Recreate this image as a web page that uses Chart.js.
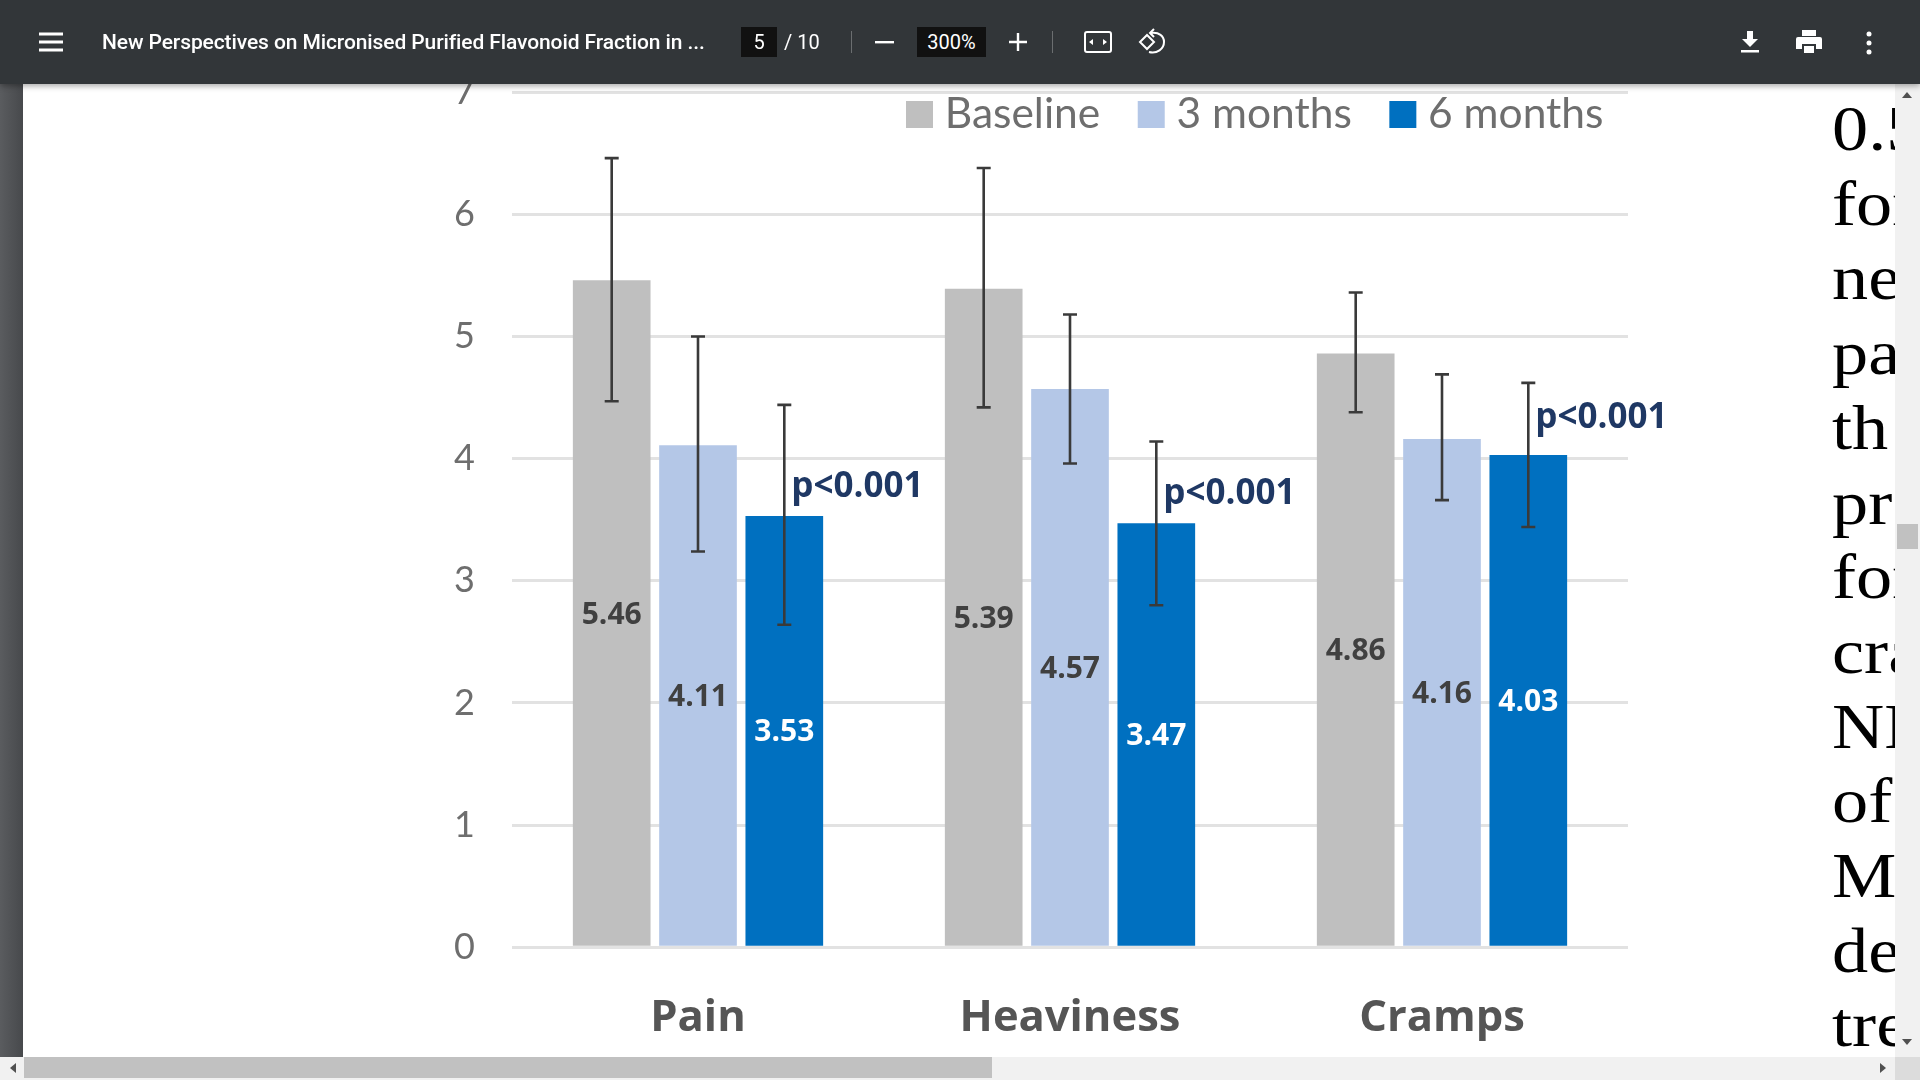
<!DOCTYPE html>
<html><head><meta charset="utf-8">
<script src="https://cdn.jsdelivr.net/npm/chart.js@4"></script>
<style>
html,body{margin:0;padding:0;width:1920px;height:1080px;overflow:hidden;background:#fff}
#chartWrap{position:absolute;left:0;top:-10px;width:1920px;height:1090px;filter:blur(.5px)}
#c{display:block}
.bar{position:absolute;left:0;top:0;width:1920px;height:84px;background:#323639;box-shadow:0 2px 6px rgba(0,0,0,.35);z-index:5;color:#fff;font-family:Roboto,sans-serif}
.bar>*{position:absolute}
.title{left:102px;top:29px;font-size:21px;font-weight:500;line-height:26px;white-space:nowrap;letter-spacing:-.1px}
.box{background:#111;top:27px;height:30px;text-align:center;line-height:30px;font-size:20px}
.sep{width:1px;background:#6b6e70;top:31px;height:22px}
.strip{position:absolute;left:0;top:84px;width:23px;height:973px;background:linear-gradient(90deg,#5a5c5f,#47494c);z-index:2}
.vtrack{position:absolute;left:1895px;top:84px;width:25px;height:973px;background:#f1f1f1;z-index:3}
.vthumb{position:absolute;left:1897px;top:524px;width:21px;height:25px;background:#c1c1c1;z-index:4}
.htrack{position:absolute;left:0;top:1057px;width:1920px;height:23px;background:#f1f1f1;z-index:3}
.hthumb{position:absolute;left:24px;top:1057px;width:968px;height:21px;background:#c1c1c1;z-index:4}
.corner{position:absolute;left:1895px;top:1057px;width:25px;height:23px;background:#dcdcdc;z-index:4}
.arr{position:absolute;z-index:4;width:0;height:0}
#prose{position:absolute;left:1832px;top:0;width:63px;height:1057px;overflow:hidden;font-family:"Liberation Serif",serif;font-size:64px;color:#000;z-index:1}
#prose div{position:absolute;left:0;white-space:nowrap;line-height:74px;transform:scaleX(1.13);transform-origin:0 50%}
</style></head>
<body>
<div id="chartWrap"><canvas id="c" width="1920" height="1090"></canvas></div>
<div id="prose"></div>
<div class="strip"></div>
<div class="vtrack"></div><div class="vthumb"></div>
<div class="htrack"></div><div class="hthumb"></div><div class="corner"></div>
<div class="arr" style="left:1902px;top:92px;border:5px solid transparent;border-top:0;border-bottom:6px solid #505050"></div>
<div class="arr" style="left:1902px;top:1039px;border:5px solid transparent;border-bottom:0;border-top:6px solid #505050"></div>
<div class="arr" style="left:10px;top:1063px;border:5px solid transparent;border-left:0;border-right:6px solid #505050"></div>
<div class="arr" style="left:1880px;top:1063px;border:5px solid transparent;border-right:0;border-left:6px solid #505050"></div>
<div class="bar">
  <svg style="left:39px;top:32px" width="24" height="20"><path d="M0 2h24M0 10h24M0 18h24" stroke="#fff" stroke-width="3"/></svg>
  <div class="title">New Perspectives on Micronised Purified Flavonoid Fraction in ...</div>
  <div class="box" style="left:741px;width:36px">5</div>
  <div style="left:784px;top:29px;line-height:26px;font-size:20px;white-space:nowrap">/&nbsp;10</div>
  <div class="sep" style="left:851px"></div>
  <svg style="left:875px;top:41px" width="19" height="3"><rect width="19" height="2.4" fill="#fff"/></svg>
  <div class="box" style="left:917px;width:69px">300%</div>
  <svg style="left:1009px;top:33px" width="18" height="18"><path d="M9 0v18M0 9h18" stroke="#fff" stroke-width="2.4"/></svg>
  <div class="sep" style="left:1052px"></div>
  <svg style="left:1084px;top:31px" width="28" height="22"><rect x="1" y="1" width="26" height="20" rx="2" fill="none" stroke="#fff" stroke-width="2"/><path d="M9 8l-4 3 4 3zM19 8l4 3-4 3z" fill="#fff"/></svg>
  <svg style="left:1138px;top:28px" width="28" height="28" fill="none" stroke="#fff" stroke-width="2"><path d="M9 7l-7 7 7 7 7-7z"/><path d="M13 5c8-1 13 3 13 9 0 7-7 12-15 10"/><path d="M16 1l-4 4 4 4" /></svg>
  <svg style="left:1741px;top:31px" width="18" height="22"><path d="M6 0h6v8h5L9 16 1 8h5zM0 19h18v2.4H0z" fill="#fff"/></svg>
  <svg style="left:1796px;top:30px" width="26" height="24"><path d="M6 0h14v6H6zM2 7h22a2 2 0 0 1 2 2v10h-6v-5H6v5H0V9a2 2 0 0 1 2-2zM8 16h10v7H8z" fill="#fff"/></svg>
  <svg style="left:1866px;top:31px" width="6" height="24" fill="#fff"><circle cx="3" cy="3" r="2.5"/><circle cx="3" cy="12" r="2.5"/><circle cx="3" cy="21" r="2.5"/></svg>
</div>
<script>
const categories = ["Pain", "Heaviness", "Cramps"];
const seriesNames = ["Baseline", "3 months", "6 months"];
const baseline = [5.46, 5.39, 4.86];
const threeMonths = [4.11, 4.57, 4.16];
const sixMonths = [3.53, 3.47, 4.03];
const baselineHigh = [6.46, 6.38, 5.36];
const baselineLow = [4.47, 4.42, 4.38];
const threeMonthsHigh = [5.00, 5.18, 4.69];
const threeMonthsLow = [3.24, 3.96, 3.66];
const sixMonthsHigh = [4.44, 4.14, 4.62];
const sixMonthsLow = [2.64, 2.80, 3.44];
const pValueText = ["p<0.001", "p<0.001", "p<0.001"];
const pValueAt = [3.77, 3.71, 4.33];
const proseLines = ["0.5", "for", "ne", "pa", "th", "pr", "for", "cra", "NN", "of", "Me", "de", "tre"];

const prose = document.getElementById('prose');
proseLines.forEach((t, i) => {
  const d = document.createElement('div');
  d.textContent = t;
  d.style.top = (92 + i * 74.7) + 'px';
  prose.appendChild(d);
});

const highs = [baselineHigh, threeMonthsHigh, sixMonthsHigh];
const lows = [baselineLow, threeMonthsLow, sixMonthsLow];
const labelColors = ['#404040', '#404040', '#ffffff'];
const FONT = 'Lato, sans-serif';
const BOLD = '"Open Sans", sans-serif';

const moveLegend = {
  id: 'moveLegend',
  afterLayout(chart) {
    const lg = chart.legend;
    const h = lg.height, w = lg.width;
    lg.left = 868.5; lg.right = 868.5 + w;
    lg.top = 56.2; lg.bottom = 56.2 + h;
  }
};
const annotate = {
  id: 'annotate',
  afterDatasetsDraw(chart) {
    const { ctx, scales: { y } } = chart;
    ctx.save();
    chart.data.datasets.forEach((ds, d) => {
      const meta = chart.getDatasetMeta(d);
      meta.data.forEach((bar, i) => {
        ctx.fillStyle = labelColors[d];
        ctx.font = 'bold 30px ' + BOLD;
        ctx.textAlign = 'center';
        ctx.textBaseline = 'middle';
        ctx.fillText(ds.data[i].toFixed(2), bar.x, (bar.y + bar.base) / 2 + 2);
        const hi = y.getPixelForValue(highs[d][i]);
        const lo = y.getPixelForValue(lows[d][i]);
        ctx.strokeStyle = '#3a3a3a';
        ctx.lineWidth = 2.6;
        ctx.beginPath();
        ctx.moveTo(bar.x, hi); ctx.lineTo(bar.x, lo);
        ctx.moveTo(bar.x - 7, hi); ctx.lineTo(bar.x + 7, hi);
        ctx.moveTo(bar.x - 7, lo); ctx.lineTo(bar.x + 7, lo);
        ctx.stroke();
      });
    });
    const m = chart.getDatasetMeta(2);
    ctx.fillStyle = '#1f3864';
    ctx.font = 'bold 35px ' + BOLD;
    ctx.textAlign = 'left';
    ctx.textBaseline = 'middle';
    m.data.forEach((bar, i) => {
      ctx.fillText(pValueText[i], bar.x + 7, y.getPixelForValue(pValueAt[i]));
    });
    ctx.restore();
  }
};

new Chart(document.getElementById('c'), {
  type: 'bar',
  data: {
    labels: categories,
    datasets: [
      { label: seriesNames[0], data: baseline, backgroundColor: '#bfbfbf', borderWidth: 0 },
      { label: seriesNames[1], data: threeMonths, backgroundColor: '#b4c7e7', borderWidth: 0 },
      { label: seriesNames[2], data: sixMonths, backgroundColor: '#0070c0', borderWidth: 0 }
    ]
  },
  options: {
    responsive: false,
    animation: false,
    devicePixelRatio: 1,
    layout: { autoPadding: false, padding: { top: 2.7, left: 0, right: 292, bottom: 0 } },
    datasets: { bar: { categoryPercentage: 0.696, barPercentage: 0.9 } },
    plugins: {
      tooltip: { enabled: false },
      legend: {
        position: 'top',
        align: 'start',
        labels: {
          usePointStyle: true,
          pointStyle: 'rect',
          boxWidth: 8,
          boxHeight: 27,
          padding: 47,
          color: '#6e6e6e',
          font: { family: FONT, size: 42.5 }
        }
      }
    },
    scales: {
      x: {
        grid: { display: false },
        border: { display: false },
        afterFit(s) { s.height = 132.8; },
        ticks: { padding: 37, maxRotation: 0, color: '#555555', font: { family: BOLD, size: 43.5, weight: 'bold' } }
      },
      y: {
        min: 0, max: 7,
        afterFit(s) { s.width = 512; },
        border: { display: false },
        grid: { color: '#e2e2e2', lineWidth: 3, drawTicks: false },
        ticks: { stepSize: 1, padding: 37, color: '#6e6e6e', font: { family: FONT, size: 36 } }
      }
    }
  },
  plugins: [moveLegend, annotate]
});
</script>
</body></html>
